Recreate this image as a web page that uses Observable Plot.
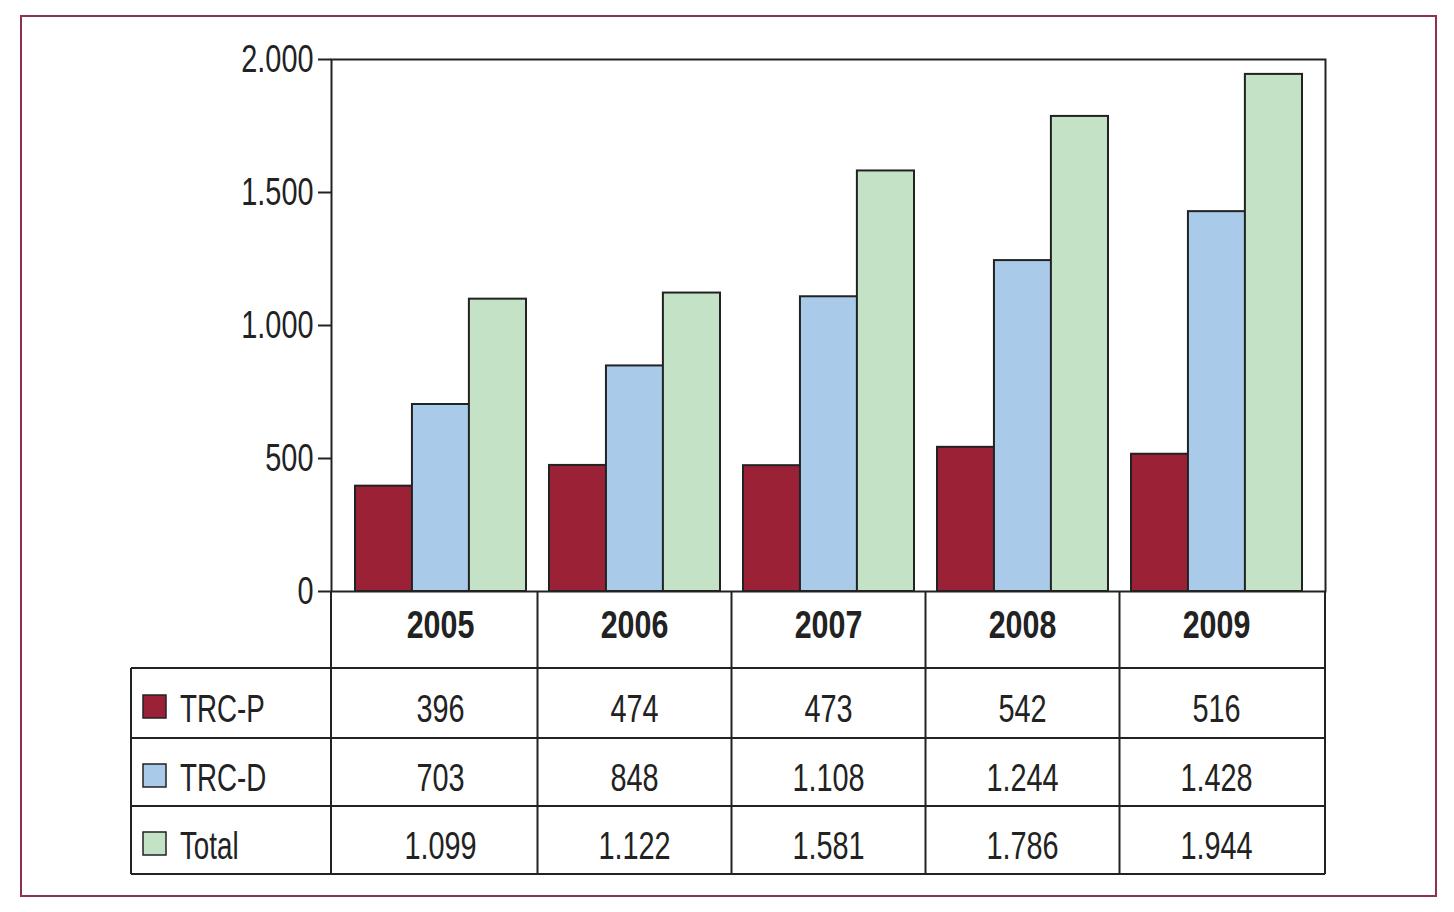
<!DOCTYPE html>
<html><head><meta charset="utf-8">
<script src="https://cdn.jsdelivr.net/npm/d3@7"></script>
<script src="https://cdn.jsdelivr.net/npm/@observablehq/plot@0.6"></script>
<style>
body{margin:0;background:#fff;width:1454px;height:912px;position:relative;overflow:hidden;font-family:"Liberation Sans",Arial,sans-serif;}
#border{position:absolute;left:20px;top:15px;width:1413px;height:878px;border:2px solid #8e3150;}
#chart{position:absolute;left:0;top:0;}
#table{position:absolute;left:0;top:0;}
</style></head><body>
<div id="border"></div>
<div id="chart"></div>
<svg id="table" width="1454" height="912"></svg>
<script>
const years = ["2005","2006","2007","2008","2009"];
const seriesNames = ["TRC-P","TRC-D","Total"];
const trcP = [396,474,473,542,516];
const trcD = [703,848,1108,1244,1428];
const total = [1099,1122,1581,1786,1944];
const seriesValues = [trcP, trcD, total];
const colors = ["#9b2236","#a9cbe9","#c4e2c6"];
const yTicks = [0,500,1000,1500,2000];

const ink = "#222";
const FONT = '"Liberation Sans", Arial, sans-serif';
const squeeze = 0.76;
const fmt = d3.formatLocale({decimal:",",thousands:".",grouping:[3],currency:["",""]}).format(",d");

const rows = [];
seriesNames.forEach((s,i)=>years.forEach((yr,j)=>rows.push({year:yr, series:s, value:seriesValues[i][j]})));

const W = 1454, H = 600, ML = 331, MR = 129, MT = 59, MB = 9;
const xPad = 0.12;
const xs = Plot.scale({x:{type:"band", domain:years, range:[ML, W-MR], padding:xPad}});
const bw = xs.bandwidth;

const plot = Plot.plot({
  width:W, height:H, marginLeft:ML, marginRight:MR, marginTop:MT, marginBottom:MB,
  style:{fontFamily:FONT, fontSize:"38px", color:ink, background:"transparent", overflow:"visible"},
  x:{domain:years, padding:xPad, axis:null},
  y:{domain:[0,2000]},
  marks:[
    ...seriesNames.map((s,i)=>Plot.barY(rows.filter(d=>d.series===s), {
      x:"year", y:"value", fill:colors[i], stroke:ink, strokeWidth:2,
      insetLeft:i*bw/3, insetRight:(2-i)*bw/3
    })),
    Plot.axisY(yTicks, {tickFormat:fmt, tickSize:13, tickPadding:5, strokeWidth:2, fontSize:38, label:null, stroke:ink, fill:ink}),
    Plot.frame({stroke:ink, strokeWidth:2})
  ]
});
document.getElementById("chart").appendChild(plot);
// condense tick labels
d3.select(plot).selectAll("text").each(function(){
  const len = this.getComputedTextLength();
  if (len > 0) { this.setAttribute("textLength", len*squeeze); this.setAttribute("lengthAdjust","spacingAndGlyphs"); }
});

// table
const x = plot.scale("x");
const step = x.step, bwd = x.bandwidth;
const y0 = MT + (H - MT - MB); // baseline y(0)
const rowB = [y0, 668, 738, 806, 874];
const tableLeft = 131;
const colB = [ML];
years.slice(0,-1).forEach(yr=>colB.push(x.apply(yr) + bwd + (step-bwd)/2));
colB.push(W-MR);
const centers = years.map(yr=>x.apply(yr)+bwd/2);

const t = d3.select("#table");
const line = (x1,y1,x2,y2)=>t.append("line").attr("x1",x1).attr("y1",y1).attr("x2",x2).attr("y2",y2).attr("stroke",ink).attr("stroke-width",2);
for (let r=1;r<rowB.length;r++) line(tableLeft,rowB[r],W-MR,rowB[r]);
line(tableLeft,rowB[1],tableLeft,rowB[4]);
colB.forEach(cx=>line(cx,rowB[0],cx,rowB[4]));

function txt(cx, cy, s, anchor, weight, size, sq){
  const g = t.append("g").attr("transform",`translate(${cx},${cy}) scale(${sq},1)`);
  g.append("text").attr("text-anchor",anchor).attr("dy","0.36em")
   .attr("font-family",FONT).attr("font-size",size).attr("font-weight",weight).attr("fill",ink).text(s);
}
years.forEach((yr,j)=>txt(centers[j], (rowB[0]+rowB[1])/2 - 5, yr, "middle", "bold", 38, 0.8));
seriesNames.forEach((s,i)=>{
  const cy = (rowB[i+1]+rowB[i+2])/2 + 5;
  t.append("rect").attr("x",143).attr("y",cy-13).attr("width",23).attr("height",23)
    .attr("fill",colors[i]).attr("stroke",ink).attr("stroke-width",1.5);
  txt(180, cy, s, "start", "normal", 38, 0.73);
  years.forEach((yr,j)=>txt(centers[j], cy, fmt(seriesValues[i][j]), "middle", "normal", 38, squeeze));
});
</script>
</body></html>
